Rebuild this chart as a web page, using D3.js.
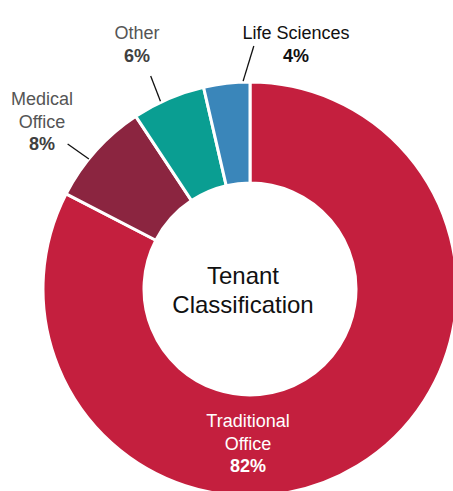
<!DOCTYPE html>
<html>
<head>
<meta charset="utf-8">
<script src="https://cdn.jsdelivr.net/npm/d3@7"></script>
<style>
  body { margin: 0; background: #fff; }
  svg { display: block; font-family: "Liberation Sans", Arial, sans-serif; }
</style>
</head>
<body>
<div id="graf"></div>
<script>
const ancho = 453;
const alto = 491;

// datos (porcentaje del arco)
const categorias = ["Traditional Office", "Medical Office", "Other", "Life Sciences"];
const valores = [82.6, 8.1, 5.7, 3.6];
const etiquetasPct = ["82%", "8%", "6%", "4%"];
const colores = ["#C41F3E", "#8B2540", "#0A9E92", "#3A86BA"];

// nombre partido en lineas, color de texto y posicion de etiqueta
const lineasNombre = [["Traditional", "Office"], ["Medical", "Office"], ["Other"], ["Life Sciences"]];
const colorTexto = ["#ffffff", "#555555", "#555555", "#111111"];
const colorPct = ["#ffffff", "#404040", "#404040", "#111111"];
const posEtiqueta = [[-2, 138], [-208, -184], [-113, -250], [46, -250]];
// guia: [angulo inicio, radio inicio, angulo fin, radio fin] (grados)
const guias = [null, [308.9, 207, 308.5, 233], [334.5, 208, 335, 235], [358.1, 208, 0.9, 243]];

const cx = 250, cy = 289;
const rExt = 207, rInt = 106;
const altoLinea = 22.5;

const svg = d3.select("#graf")
  .append("svg")
  .attr("width", ancho)
  .attr("height", alto);

const g = svg.append("g").attr("transform", `translate(${cx}, ${cy})`);

const datos = categorias.map((c, i) => ({ nombre: c, valor: valores[i], i: i }));

const pie = d3.pie().sort(null).value(d => d.valor);
const arco = d3.arc().innerRadius(rInt).outerRadius(rExt);

g.selectAll("path.slice")
  .data(pie(datos))
  .enter()
  .append("path")
  .attr("class", "slice")
  .attr("d", arco)
  .attr("fill", d => colores[d.data.i])
  .attr("stroke", "#fff")
  .attr("stroke-width", 3)
  .attr("stroke-linejoin", "miter");

// lineas guia
const rad = a => a * Math.PI / 180;
g.selectAll("line.guia")
  .data(guias.filter(d => d))
  .enter()
  .append("line")
  .attr("class", "guia")
  .attr("x1", d => d3.pointRadial(rad(d[0]), d[1])[0])
  .attr("y1", d => d3.pointRadial(rad(d[0]), d[1])[1])
  .attr("x2", d => d3.pointRadial(rad(d[2]), d[3])[0])
  .attr("y2", d => d3.pointRadial(rad(d[2]), d[3])[1])
  .attr("stroke", "#111")
  .attr("stroke-width", 1.3);

// etiquetas
const etiquetas = g.selectAll("text.etiqueta")
  .data(datos)
  .enter()
  .append("text")
  .attr("class", "etiqueta")
  .attr("text-anchor", "middle")
  .attr("font-size", "18px");

etiquetas.each(function (d) {
  const t = d3.select(this);
  const [x, y] = posEtiqueta[d.i];
  const lineas = lineasNombre[d.i];
  lineas.forEach((l, k) => {
    t.append("tspan")
      .attr("x", x)
      .attr("y", y + k * altoLinea)
      .attr("fill", colorTexto[d.i])
      .text(l);
  });
  t.append("tspan")
    .attr("x", x)
    .attr("y", y + lineas.length * altoLinea)
    .attr("fill", colorPct[d.i])
    .attr("font-weight", "bold")
    .text(etiquetasPct[d.i]);
});

// titulo central
const titulo = g.append("text")
  .attr("text-anchor", "middle")
  .attr("font-size", "24px")
  .attr("fill", "#111");
titulo.append("tspan").attr("x", -7).attr("y", -5).text("Tenant");
titulo.append("tspan").attr("x", -7).attr("y", 24).text("Classification");
</script>
</body>
</html>
